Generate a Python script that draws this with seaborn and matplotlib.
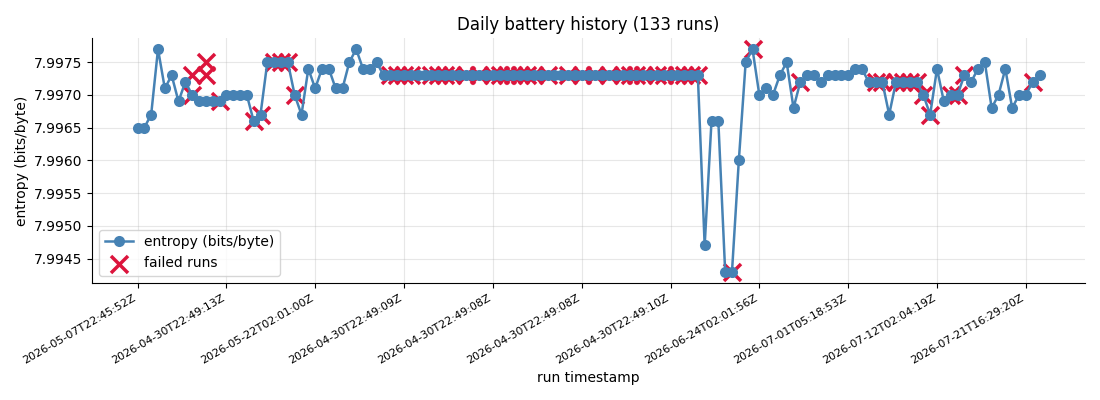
import numpy as np
import matplotlib
matplotlib.use("Agg")
import matplotlib.pyplot as plt
import seaborn as sns
from matplotlib.ticker import FormatStrFormatter

# entropy per run, in run order
entropy = [
    7.9965, 7.9965, 7.9967, 7.9977, 7.9971, 7.9973, 7.9969, 7.9972, 7.9970, 7.9969,
    7.9969, 7.9969, 7.9969, 7.9970, 7.9970, 7.9970, 7.9970, 7.9966, 7.9967, 7.9975,
    7.9975, 7.9975, 7.9975, 7.9970, 7.9967, 7.9974, 7.9971, 7.9974, 7.9974, 7.9971,
    7.9971, 7.9975, 7.9977, 7.9974, 7.9974, 7.9975, 7.9973, 7.9973, 7.9973, 7.9973,
    7.9973, 7.9973, 7.9973, 7.9973, 7.9973, 7.9973, 7.9973, 7.9973, 7.9973, 7.9973,
    7.9973, 7.9973, 7.9973, 7.9973, 7.9973, 7.9973, 7.9973, 7.9973, 7.9973, 7.9973,
    7.9973, 7.9973, 7.9973, 7.9973, 7.9973, 7.9973, 7.9973, 7.9973, 7.9973, 7.9973,
    7.9973, 7.9973, 7.9973, 7.9973, 7.9973, 7.9973, 7.9973, 7.9973, 7.9973, 7.9973,
    7.9973, 7.9973, 7.9973, 7.9947, 7.9966, 7.9966, 7.9943, 7.9943, 7.9960, 7.9975,
    7.9977, 7.9970, 7.9971, 7.9970, 7.9973, 7.9975, 7.9968, 7.9972, 7.9973, 7.9973,
    7.9972, 7.9973, 7.9973, 7.9973, 7.9973, 7.9974, 7.9974, 7.9972, 7.9972, 7.9972,
    7.9967, 7.9972, 7.9972, 7.9972, 7.9972, 7.9970, 7.9967, 7.9974, 7.9969, 7.9970,
    7.9970, 7.9973, 7.9972, 7.9974, 7.9975, 7.9968, 7.9970, 7.9974, 7.9968, 7.9970,
    7.9970, 7.9972, 7.9973,
]

# failed runs: run position and the entropy they reported
failed_idx = [8, 8, 10, 10, 12, 17, 18, 20, 21, 22, 23,
              37, 38, 39, 40, 43, 44, 45, 46, 48, 50, 52, 53, 54, 55, 56, 57, 58,
              60, 63, 65, 67, 69, 71, 72, 73, 74, 76, 77, 79, 80, 81, 82,
              87, 90, 97, 108, 109, 111, 112, 113, 114, 115, 116, 119, 120, 121, 131]
failed_vals = [7.9970, 7.9973, 7.9975, 7.9973, 7.9969, 7.9966, 7.9967, 7.9975, 7.9975, 7.9975, 7.9970,
               7.9973, 7.9973, 7.9973, 7.9973, 7.9973, 7.9973, 7.9973, 7.9973, 7.9973, 7.9973,
               7.9973, 7.9973, 7.9973, 7.9973, 7.9973, 7.9973, 7.9973,
               7.9973, 7.9973, 7.9973, 7.9973, 7.9973, 7.9973, 7.9973, 7.9973, 7.9973, 7.9973,
               7.9973, 7.9973, 7.9973, 7.9973, 7.9973,
               7.9943, 7.9977, 7.9972, 7.9972, 7.9972, 7.9972, 7.9972, 7.9972, 7.9972, 7.9970,
               7.9967, 7.9970, 7.9970, 7.9973, 7.9972]

# every 13th run timestamp shown on the x axis
tick_labels = [
    "2026-05-07T22:45:52Z", "2026-04-30T22:49:13Z", "2026-05-22T02:01:00Z",
    "2026-04-30T22:49:09Z", "2026-04-30T22:49:08Z", "2026-04-30T22:49:08Z",
    "2026-04-30T22:49:10Z", "2026-06-24T02:01:56Z", "2026-07-01T05:18:53Z",
    "2026-07-12T02:04:19Z", "2026-07-21T16:29:20Z",
]

runs = np.arange(len(entropy))

fig, ax = plt.subplots(figsize=(11, 4), dpi=100)

sns.lineplot(x=runs, y=entropy, ax=ax, color="steelblue", marker="o",
             markersize=8, markeredgecolor="steelblue", markeredgewidth=0,
             linewidth=1.8, label="entropy (bits/byte)", zorder=3)
sns.scatterplot(x=failed_idx, y=failed_vals, ax=ax, marker="x", s=150,
                color="crimson", linewidth=2.5, label="failed runs", zorder=2)

ax.set_xticks(runs[::13])
ax.set_xticklabels(tick_labels, rotation=30, ha="right", fontsize=8)
ax.yaxis.set_major_formatter(FormatStrFormatter("%.4f"))

ax.set_title("Daily battery history (133 runs)")
ax.set_xlabel("run timestamp")
ax.set_ylabel("entropy (bits/byte)")
ax.grid(True, alpha=0.3)
ax.spines["top"].set_visible(False)
ax.spines["right"].set_visible(False)
ax.legend(loc="lower left")

fig.subplots_adjust(left=0.084, right=0.986, top=0.905, bottom=0.293)
fig.savefig("out.png")
